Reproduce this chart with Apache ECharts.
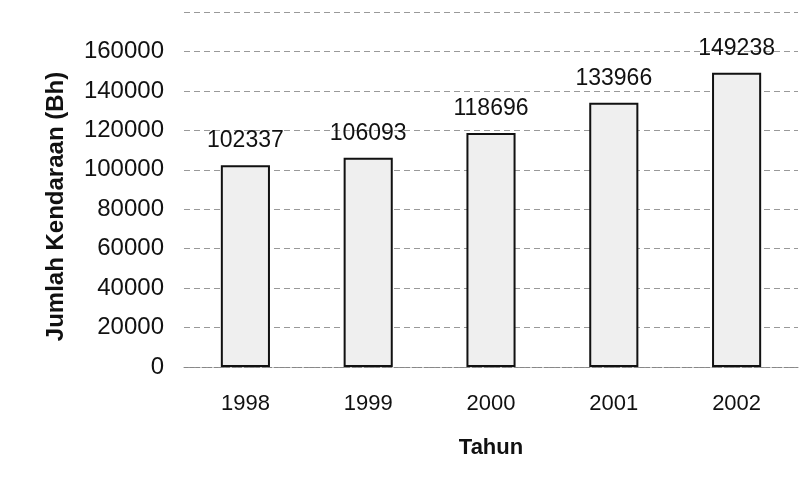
<!DOCTYPE html>
<html><head><meta charset="utf-8">
<script src="https://cdn.jsdelivr.net/npm/echarts@6/dist/echarts.min.js"></script>
<style>html,body{margin:0;padding:0;background:#fff}#c{width:803px;height:488px}</style>
</head><body><div id="c"></div>
<script>
const years = ['1998','1999','2000','2001','2002'];
const vehicles = [102337, 106093, 118696, 133966, 149238];
const yTicks = [0, 20000, 40000, 60000, 80000, 100000, 120000, 140000, 160000, 180000];

const chart = echarts.init(document.getElementById('c'));
chart.setOption({
  backgroundColor: '#ffffff',
  animation: false,
  grid: { left: 184, right: 5, top: 12, bottom: 121 },
  xAxis: {
    type: 'category',
    data: years,
    name: 'Tahun',
    nameLocation: 'middle',
    nameGap: 70,
    nameTextStyle: { fontFamily: 'Liberation Sans', fontWeight: 'bold', fontSize: 22, color: '#111' },
    axisLine: { show: true, lineStyle: { color: '#888', type: 'dashed', width: 1 } },
    axisTick: { show: false },
    axisLabel: { fontFamily: 'Liberation Sans', fontSize: 22, color: '#111', margin: 26 }
  },
  yAxis: {
    type: 'value',
    min: yTicks[0],
    max: yTicks[yTicks.length - 1],
    interval: yTicks[1] - yTicks[0],
    name: 'Jumlah Kendaraan (Bh)',
    nameLocation: 'middle',
    nameGap: 116,
    nameRotate: 90,
    nameTextStyle: { fontFamily: 'Liberation Sans', fontWeight: 'bold', fontSize: 24, color: '#111', padding: [0, 34, 0, 0] },
    axisLine: { show: false },
    axisTick: { show: false },
    axisLabel: {
      fontFamily: 'Liberation Sans', fontSize: 24, color: '#111', margin: 20,
      showMaxLabel: false,
      formatter: function (v) { return String(v); }
    },
    splitLine: { show: true, lineStyle: { color: '#999', type: [6, 4], width: 1 } }
  },
  series: [{
    type: 'bar',
    data: vehicles,
    barWidth: '40%',
    itemStyle: { color: '#efefef', borderColor: '#111', borderWidth: 2 },
    label: {
      show: true, position: 'top', distance: 13,
      fontFamily: 'Liberation Sans', fontSize: 23, color: '#111'
    }
  }]
});
</script></body></html>
